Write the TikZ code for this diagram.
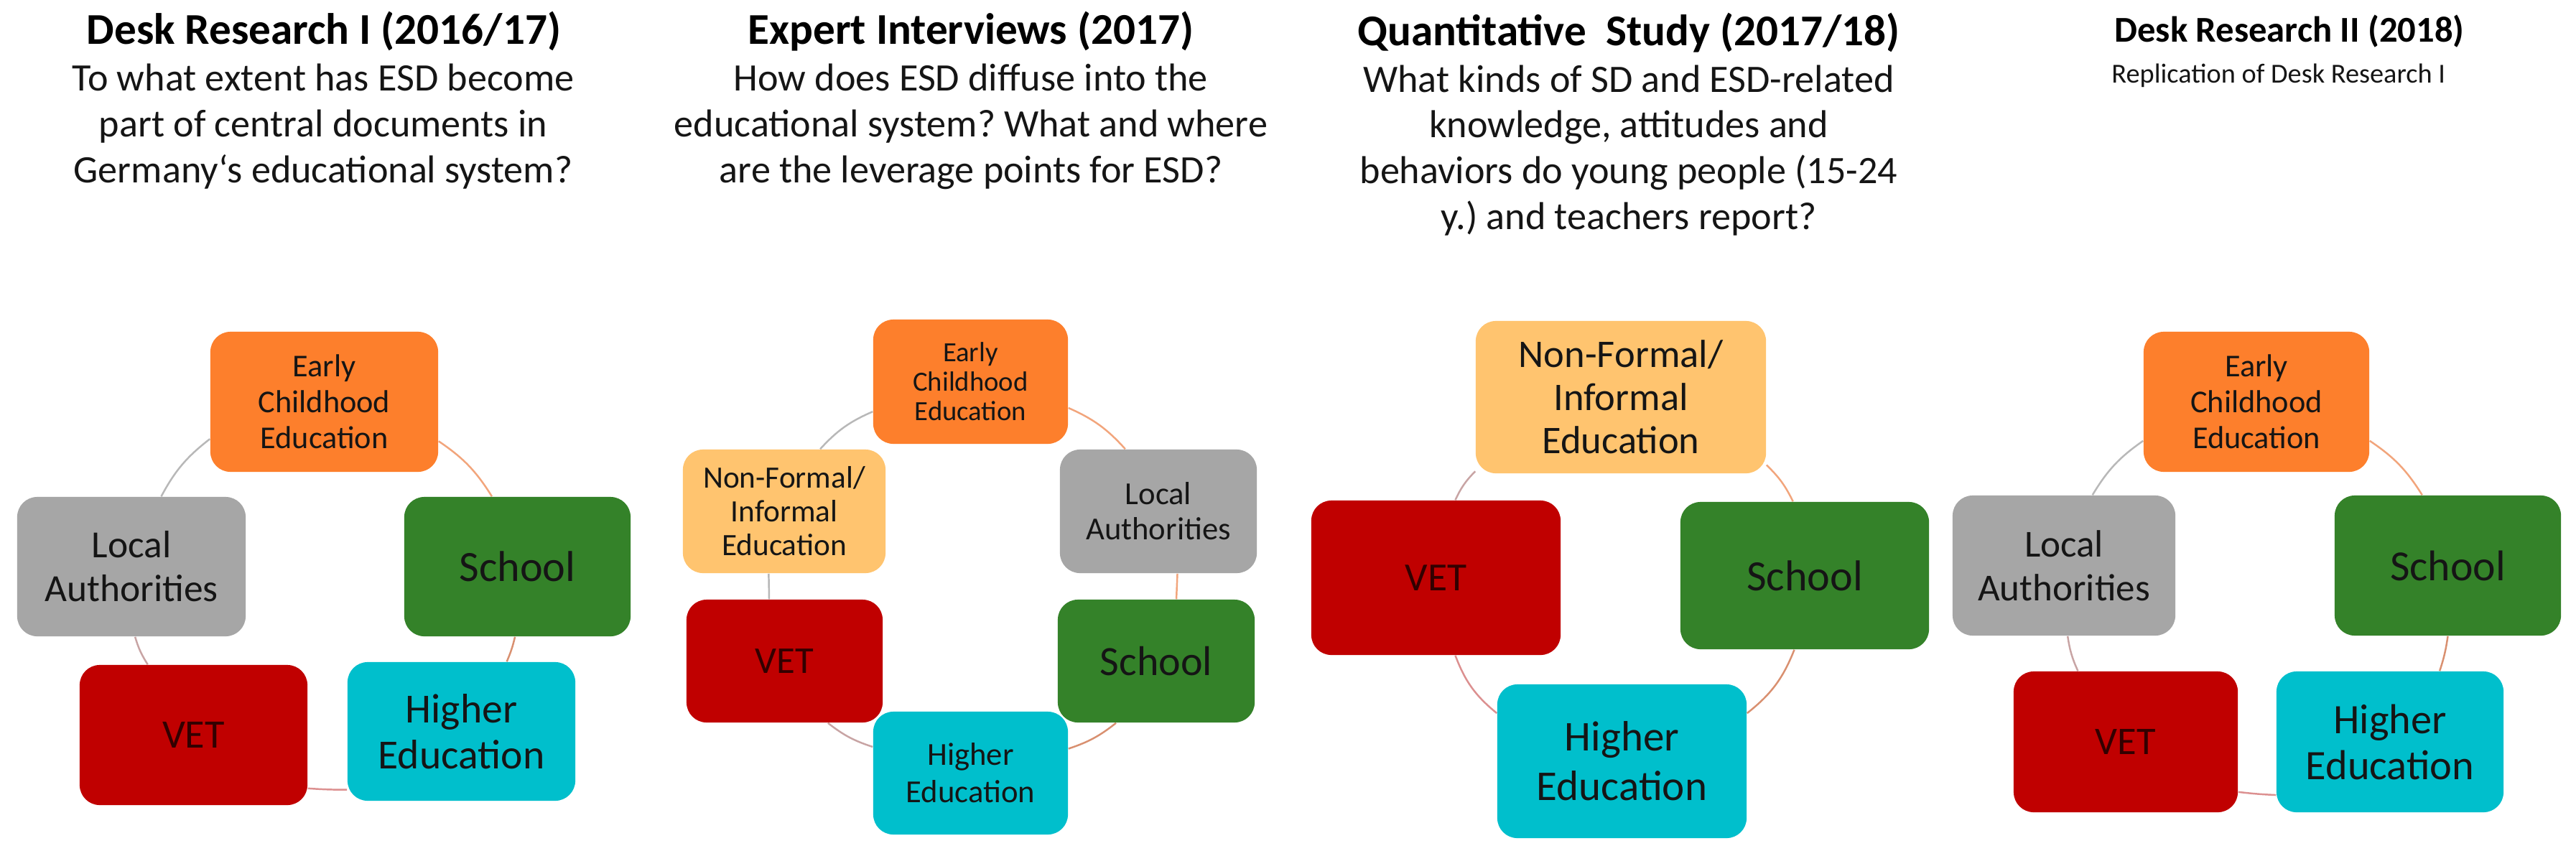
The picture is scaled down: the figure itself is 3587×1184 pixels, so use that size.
\documentclass[tikz,border=0pt]{standalone}
\usepackage{fontspec}
\setmainfont{Carlito}
\usetikzlibrary{topaths}
\pgfdeclarelayer{back}
\pgfdeclarelayer{lines}
\pgfsetlayers{back,lines,main}
\frenchspacing
\newcommand\myfs[2]{\fontsize{#1pt}{#2pt}\selectfont}
\definecolor{cEarly}{HTML}{FD7F2C}
\definecolor{cSchool}{HTML}{348229}
\definecolor{cLocal}{HTML}{A6A6A6}
\definecolor{cVet}{HTML}{C00000}
\definecolor{cHigher}{HTML}{00BFCC}
\definecolor{cNon}{HTML}{FFC46F}
\definecolor{txt}{HTML}{151515}
\definecolor{vtxt}{HTML}{320000}
\definecolor{lnGray}{HTML}{B8B8B8}
\definecolor{lnOrange}{HTML}{F2A57C}
\definecolor{lnBrown}{HTML}{D99070}
\definecolor{lnRed}{HTML}{DC9090}
\definecolor{lnRose}{HTML}{C8A4A4}
\tikzset{
  box/.style={rounded corners=0.28cm, inner sep=0pt, align=center, text=txt},
  early/.style={box, fill=cEarly},
  school/.style={box, fill=cSchool},
  local/.style={box, fill=cLocal},
  vet/.style={box, fill=cVet, text=vtxt},
  higher/.style={box, fill=cHigher},
  nonformal/.style={box, fill=cNon},
  ttl/.style={anchor=base, text=black, font=\myfs{17.4}{20}\bfseries},
  qst/.style={anchor=base, align=center, text=txt, font=\myfs{15.4}{18.07}},
  conn/.style={line width=0.7pt},
}
\begin{document}
\begin{tikzpicture}[x=0.01cm, y=0.01cm]
\begin{pgfonlayer}{back}
\fill[white] (0,0) rectangle (3587,-1184);
\end{pgfonlayer}
\useasboundingbox (0,0) rectangle (3587,-1184);

% ---------- Panel 1 ----------
\node[ttl] (t1) at (451,-61) {Desk Research I (2016/17)};
\node[qst] (q1) at (450,-254) {To what extent has ESD become\\part of central documents in\\Germany‘s educational system?};
\node[early, minimum width=3.17cm, minimum height=1.95cm, font=\myfs{12.6}{14.2}] (E1) at (451.5,-559.5) {Early\\Childhood\\Education};
\node[local, minimum width=3.18cm, minimum height=1.94cm, font=\myfs{15.2}{17.4}] (L1) at (183,-789) {Local\\Authorities};
\node[school, minimum width=3.15cm, minimum height=1.94cm, font=\myfs{17.1}{20}] (S1) at (720.5,-789) {School};
\node[vet, minimum width=3.17cm, minimum height=1.95cm, font=\myfs{16}{19}] (V1) at (269.5,-1023.5) {VET};
\node[higher, minimum width=3.17cm, minimum height=1.93cm, font=\myfs{16.4}{18.2}] (H1) at (642.5,-1018.5) {Higher\\Education};

% ---------- Panel 2 ----------
\node[ttl] (t2) at (1352,-61) {Expert Interviews (2017)};
\node[qst] (q2) at (1352,-254) {How does ESD diffuse into the\\educational system? What and where\\are the leverage points for ESD?};
\node[early, minimum width=2.71cm, minimum height=1.73cm, font=\myfs{11}{11.7}] (E2) at (1351.5,-531.5) {Early\\Childhood\\Education};
\node[nonformal, minimum width=2.82cm, minimum height=1.72cm, font=\myfs{12.3}{13.4}] (N2) at (1092,-712) {Non-Formal/\\Informal\\Education};
\node[local, minimum width=2.74cm, minimum height=1.72cm, font=\myfs{12.7}{13.9}] (L2) at (1613,-712) {Local\\Authorities};
\node[vet, minimum width=2.73cm, minimum height=1.71cm, font=\myfs{15}{18}] (V2) at (1092.5,-920.5) {VET};
\node[school, minimum width=2.74cm, minimum height=1.71cm, font=\myfs{16.5}{19}] (S2) at (1610,-920.5) {School};
\node[higher, minimum width=2.71cm, minimum height=1.71cm, font=\myfs{12.7}{14.8}] (H2) at (1351.5,-1076.5) {Higher\\Education};

% ---------- Panel 3 ----------
\node[ttl] (t3) at (2268,-63) {Quantitative\ \ Study (2017/18)};
\node[qst] (q3) at (2268,-319) {What kinds of SD and ESD-related\\knowledge, attitudes and\\behaviors do young people (15-24\\y.) and teachers report?};
\node[nonformal, minimum width=4.04cm, minimum height=2.12cm, font=\myfs{15.5}{17.1}] (N3) at (2257,-553) {Non-Formal/\\Informal\\Education};
\node[vet, minimum width=3.47cm, minimum height=2.15cm, font=\myfs{15.8}{18}] (V3) at (1999.5,-804.5) {VET};
\node[school, minimum width=3.46cm, minimum height=2.05cm, font=\myfs{17.1}{20}] (S3) at (2513,-801.5) {School};
\node[higher, minimum width=3.47cm, minimum height=2.14cm, font=\myfs{16.8}{19.6}] (H3) at (2258.5,-1060) {Higher\\Education};

% ---------- Panel 4 ----------
\node[ttl, anchor=base west, font=\myfs{14.4}{17}\bfseries] (t4) at (2932,-58) {Desk Research II (2018)};
\node[qst, anchor=base west, font=\myfs{10.9}{13}] (q4) at (2928,-115) {Replication of Desk Research I};
\node[early, minimum width=3.14cm, minimum height=1.95cm, font=\myfs{12.6}{14.2}] (E4) at (3142,-559.5) {Early\\Childhood\\Education};
\node[local, minimum width=3.10cm, minimum height=1.95cm, font=\myfs{15.1}{17.4}] (L4) at (2874,-787.5) {Local\\Authorities};
\node[school, minimum width=3.15cm, minimum height=1.95cm, font=\myfs{17}{20}] (S4) at (3408.5,-787.5) {School};
\node[vet, minimum width=3.12cm, minimum height=1.96cm, font=\myfs{15.5}{18}] (V4) at (2960,-1033) {VET};
\node[higher, minimum width=3.16cm, minimum height=1.96cm, font=\myfs{16.6}{18.2}] (H4) at (3328,-1033) {Higher\\Education};

% ---------- connectors ----------
\begin{pgfonlayer}{lines}
\draw[conn, lnGray]   (L1.67)  to[bend left=12] (E1.198);
\draw[conn, lnOrange] (E1.341) to[bend left=12] (S1.110);
\draw[conn, lnBrown]  (S1.268) to[bend left=5]  (H1.57);
\draw[conn, lnRed]    (H1.207) to[bend left=2]  (V1.335);
\draw[conn, lnRose]   (V1.123) to[bend left=8]  (L1.273);

\draw[conn, lnGray]   (N2.60)  to[bend left=12] (E2.197);
\draw[conn, lnOrange] (E2.345) to[bend left=12] (L2.118);
\draw[conn, lnOrange] (L2.287) -- (S2.72);
\draw[conn, lnBrown]  (S2.237) to[bend left=10] (H2.14);
\draw[conn, lnRose]   (H2.165) to[bend left=10] (V2.305);
\draw[conn, lnGray]   (V2.104) -- (N2.256);

\draw[conn, lnRose]   (V3.76)  to[bend left=10] (N3.207);
\draw[conn, lnOrange] (N3.335) to[bend left=10] (S3.99);
\draw[conn, lnBrown]  (S3.262) to[bend left=15] (H3.21);
\draw[conn, lnRed]    (H3.159) to[bend left=15] (V3.284);

\draw[conn, lnGray]   (L4.68)  to[bend left=12] (E4.199);
\draw[conn, lnOrange] (E4.341) to[bend left=12] (S4.110);
\draw[conn, lnBrown]  (S4.270) to[bend left=5]  (H4.55);
\draw[conn, lnRed]    (H4.205) to[bend left=2]  (V4.336);
\draw[conn, lnRose]   (V4.124) to[bend left=8]  (L4.273);
\end{pgfonlayer}
\end{tikzpicture}
\end{document}
